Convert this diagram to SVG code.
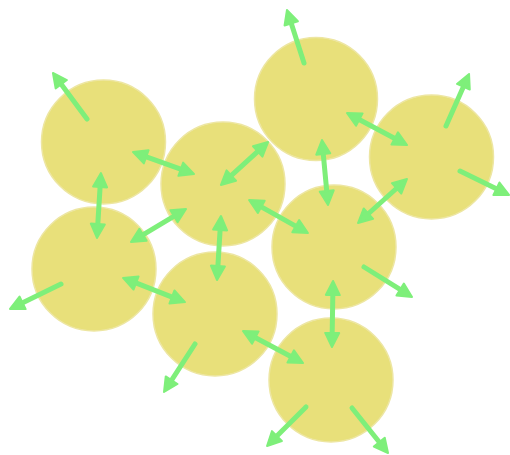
<svg xmlns="http://www.w3.org/2000/svg" width="510" height="455" viewBox="0 0 510 455">
<style>
.node circle{fill:#e8e07a;stroke:#ede6a2;stroke-width:1.5}
.arr line{stroke:#7eef7a;stroke-width:5;stroke-linecap:round;marker-end:url(#ah)}
.arr line.both{marker-start:url(#ah)}
</style>
<defs>
<marker id="ah" markerUnits="userSpaceOnUse" markerWidth="24" markerHeight="24" refX="5" refY="7" orient="auto-start-reverse" overflow="visible">
<path d="M0,0 L14,7 L0,14 Z" fill="#7eef7a" stroke="#7eef7a" stroke-width="2" stroke-linejoin="round"/>
</marker>
</defs>
<rect width="510" height="455" fill="#ffffff"/>
<g id="n1" class="node"><circle cx="103.5" cy="142" r="62"/></g>
<g id="n2" class="node"><circle cx="316" cy="99" r="61.5"/></g>
<g id="n3" class="node"><circle cx="431.5" cy="157" r="62"/></g>
<g id="n4" class="node"><circle cx="223" cy="184" r="62"/></g>
<g id="n5" class="node"><circle cx="94" cy="269" r="62"/></g>
<g id="n6" class="node"><circle cx="215" cy="314" r="62"/></g>
<g id="n7" class="node"><circle cx="334" cy="247" r="62"/></g>
<g id="n8" class="node"><circle cx="331" cy="380" r="62"/></g>
<g id="connectors" class="arr">
<line x1="87" y1="119" x2="58.3" y2="80.2"/>
<line x1="304" y1="63" x2="289.7" y2="18.6"/>
<line x1="446" y1="126" x2="465.4" y2="82.2"/>
<line x1="460" y1="171" x2="500.9" y2="191"/>
<line x1="61" y1="284" x2="18.1" y2="305"/>
<line x1="195" y1="344" x2="168.9" y2="384.4"/>
<line x1="364" y1="267" x2="404.4" y2="292.2"/>
<line x1="306" y1="407" x2="273.4" y2="439.6"/>
<line x1="352" y1="408" x2="382.4" y2="446"/>
<line class="both" x1="141.5" y1="155.1" x2="185.5" y2="170.9"/>
<line class="both" x1="100.4" y1="182" x2="97.5" y2="229"/>
<line class="both" x1="261.4" y1="148.1" x2="227.6" y2="178.9"/>
<line class="both" x1="138.7" y1="237.4" x2="178.3" y2="213.6"/>
<line class="both" x1="220.4" y1="225" x2="217.6" y2="271"/>
<line class="both" x1="131.4" y1="281.2" x2="176.6" y2="298.8"/>
<line class="both" x1="256.9" y1="204.4" x2="300.1" y2="228.6"/>
<line class="both" x1="322.8" y1="149" x2="327.2" y2="196"/>
<line class="both" x1="354.9" y1="117.2" x2="399.1" y2="140.8"/>
<line class="both" x1="400.3" y1="185" x2="364.7" y2="217"/>
<line class="both" x1="332.9" y1="290" x2="332.1" y2="338"/>
<line class="both" x1="250.9" y1="335.2" x2="295.1" y2="358.8"/>
</g>
</svg>
